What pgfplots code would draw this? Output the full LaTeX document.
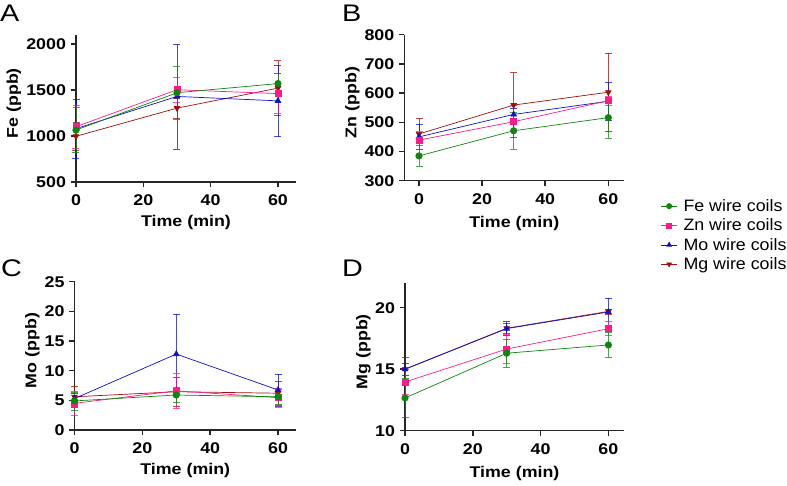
\documentclass[border=0pt]{standalone}
\usepackage{fontspec}
\setmainfont{Liberation Sans}
\newfontfamily\wfont[FakeStretch=1.15]{Liberation Sans}
\newfontfamily\gfont[FakeStretch=1.08]{Liberation Sans}
\newfontfamily\lfont[FakeStretch=1.2]{Liberation Sans}
\usepackage{pgfplots}
\pgfplotsset{compat=1.18}

\definecolor{cfe}{HTML}{0E850E}
\definecolor{czn}{HTML}{FF1A8C}
\definecolor{cmo}{HTML}{1010C8}
\definecolor{cmg}{HTML}{A00E0E}

\pgfplotsset{
  panel/.style={scale only axis, axis lines*=left, axis line style={black!85,line width=1.5pt,-},
    tick style={black!85,line width=1.5pt}, tick align=outside, major tick length=5pt,
    tick pos=left, xtick={0,20,40,60},
    /pgf/number format/assume math mode=true, /pgf/number format/1000 sep={},
    ticklabel style={font=\wfont\fontsize{15.5}{18}\selectfont\bfseries},
    xticklabel style={yshift=-4pt}, yticklabel style={xshift=-1.5pt},
    label style={font=\wfont\fontsize{15.5}{18}\selectfont\bfseries},
    xlabel={Time (min)}, clip=false},
  eb/.style={error bars/.cd, y dir=both, y explicit,
    error bar style={line width=0.6pt, opacity=0.75},
    error mark options={rotate=90, mark size=3.5pt, line width=0.6pt, opacity=0.75}},
  fe/.style={cfe, line width=0.7pt, mark=*, mark size=3.2pt, mark options={solid,fill=cfe}, eb},
  zn/.style={czn, line width=0.7pt, mark=square*, mark size=3pt, mark options={solid,fill=czn}, eb},
  mo/.style={cmo, line width=0.7pt, mark=triangle*, mark size=3.2pt, mark options={solid,fill=cmo}, eb},
  mg/.style={cmg, line width=0.7pt, mark=triangle*, mark size=3.2pt, mark options={solid,fill=cmg,rotate=180}, eb},
  legimg/.style={legend image code/.code={\draw[##1,mark size=2.6pt] plot coordinates {(0pt,0pt)} (-8pt,0pt) -- (8pt,0pt);}},
}

\begin{document}
\begin{tikzpicture}
\useasboundingbox (0pt,0pt) rectangle (787pt,485pt);

% panel letters
\node[anchor=base west,inner sep=0,font=\lfont\fontsize{24}{24}\selectfont] at (0pt,463pt) {A};
\node[anchor=base west,inner sep=0,font=\lfont\fontsize{24}{24}\selectfont] at (342pt,463pt) {B};
\node[anchor=base west,inner sep=0,font=\lfont\fontsize{24}{24}\selectfont] at (1pt,208pt) {C};
\node[anchor=base west,inner sep=0,font=\lfont\fontsize{24}{24}\selectfont] at (342pt,208pt) {D};

% A: Fe
\begin{axis}[panel, at={(76pt,303pt)}, anchor=south west, width=220pt, height=147.2pt,
  xmin=0, xmax=65.35, ymin=500, ymax=2100, ytick={500,1000,1500,2000},
  xlabel style={at={(axis description cs:0.5,-0.275)}, anchor=center},
  ylabel={Fe (ppb)}, ylabel style={at={(axis description cs:-0.282,0.535)}, anchor=center}]
\addplot[mg] table[y error=e, row sep=\\] {x y e\\ 0 997 150\\ 30 1303 110\\ 60 1520 300\\};
\addplot[mo] table[y error=e, row sep=\\] {x y e\\ 0 1080 320\\ 30 1430 570\\ 60 1382 390\\};
\addplot[zn] table[y error=e, row sep=\\] {x y e\\ 0 1101 230\\ 30 1503 135\\ 60 1461 218\\};
\addplot[fe] table[y error=e, row sep=\\] {x y e\\ 0 1065 245\\ 30 1470 290\\ 60 1570 110\\};
\end{axis}

% B: Zn
\begin{axis}[panel, at={(404.3pt,304.3pt)}, anchor=south west, width=220pt, height=146pt,
  xmin=-4.66, xmax=65.07, ymin=300, ymax=800, ytick={300,400,...,800},
  xlabel style={at={(axis description cs:0.5,-0.29)}, anchor=center},
  ylabel={Zn (ppb)}, ylabel style={at={(axis description cs:-0.236,0.535)}, anchor=center},
  reverse legend, legimg,
  legend style={at={(axis description cs:1.165,-0.127)}, anchor=north west, draw=none, fill=none,
    font=\gfont\fontsize{16.5}{19.8}\selectfont, inner sep=0pt, row sep=5.9pt, column sep=6pt,
    nodes={inner sep=0pt}},
  legend cell align=left]
\addplot[mg] table[y error=e, row sep=\\] {x y e\\ 0 460 54\\ 30 559 111\\ 60 603 133\\};
\addplot[mo] table[y error=e, row sep=\\] {x y e\\ 0 450 43\\ 30 527 20\\ 60 572 66\\};
\addplot[zn] table[y error=e, row sep=\\] {x y e\\ 0 439 30\\ 30 502 55\\ 60 574 15\\};
\addplot[fe] table[y error=e, row sep=\\] {x y e\\ 0 385 35\\ 30 471 62\\ 60 516 71\\};
\legend{Mg wire coils, Mo wire coils, Zn wire coils, Fe wire coils}
\end{axis}

% C: Mo
\begin{axis}[panel, at={(74.5pt,55pt)}, anchor=south west, width=221.5pt, height=148.3pt,
  xmin=0, xmax=65.3, ymin=0, ymax=25, ytick={0,5,...,25},
  xlabel style={at={(axis description cs:0.5,-0.275)}, anchor=center},
  ylabel={Mo (ppb)}, ylabel style={at={(axis description cs:-0.19,0.535)}, anchor=center}]
\addplot[mg] table[y error=e, row sep=\\] {x y e\\ 0 5.6 1.7\\ 30 6.45 2.4\\ 60 6.2 2.0\\};
\addplot[mo] table[y error=e, row sep=\\] {x y e\\ 0 5.3 0.9\\ 30 12.8 6.7\\ 60 6.75 2.7\\};
\addplot[zn] table[y error=e, row sep=\\] {x y e\\ 0 4.5 2.0\\ 30 6.6 2.9\\ 60 5.45 1.6\\};
\addplot[fe] table[y error=e, row sep=\\] {x y e\\ 0 4.9 1.5\\ 30 5.9 1.3\\ 60 5.6 1.3\\};
\end{axis}

% D: Mg
\begin{axis}[panel, at={(405pt,54.3pt)}, anchor=south west, width=219pt, height=147.6pt,
  xmin=0, xmax=64.6, ymin=10, ymax=22, ytick={10,15,20},
  xlabel style={at={(axis description cs:0.5,-0.29)}, anchor=center},
  ylabel={Mg (ppb)}, ylabel style={at={(axis description cs:-0.19,0.535)}, anchor=center}]
\addplot[mg] table[y error=e, row sep=\\] {x y e\\ 0 15.0 1.0\\ 30 18.33 0.4\\ 60 19.7 0.2\\};
\addplot[mo] table[y error=e, row sep=\\] {x y e\\ 0 15.0 0.5\\ 30 18.3 0.57\\ 60 19.65 1.14\\};
\addplot[zn] table[y error=e, row sep=\\] {x y e\\ 0 13.96 1.0\\ 30 16.64 1.16\\ 60 18.29 0.57\\};
\addplot[fe] table[y error=e, row sep=\\] {x y e\\ 0 12.66 1.57\\ 30 16.3 1.14\\ 60 16.97 1.0\\};
\end{axis}
\end{tikzpicture}
\end{document}
